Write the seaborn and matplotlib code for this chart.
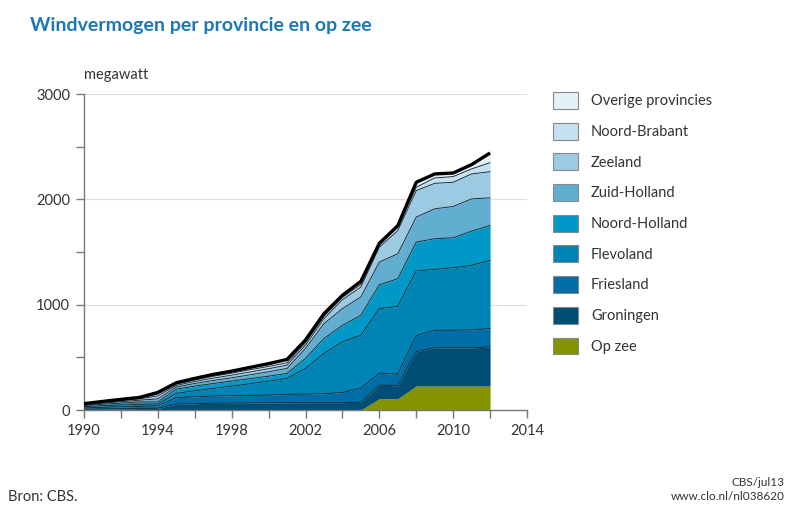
import numpy as np
import matplotlib
matplotlib.use("Agg")
import matplotlib.pyplot as plt
from matplotlib.patches import Patch
import seaborn as sns

# DATA (megawatt)
years = list(range(1990, 2013))
op_zee =        [0, 0, 0, 0, 0, 0, 0, 0, 0, 0, 0, 0, 0, 0, 0, 0, 108, 108, 228, 228, 228, 228, 228]
groningen =     [8, 10, 12, 14, 16, 55, 60, 64, 66, 67, 68, 69, 70, 70, 70, 73, 129, 122, 326, 362, 362, 362, 372]
friesland =     [12, 15, 18, 20, 22, 62, 65, 68, 70, 71, 73, 80, 80, 85, 95, 132, 113, 110, 151, 167, 167, 170, 173]
flevoland =     [12, 15, 18, 20, 18, 41, 58, 73, 91, 112, 133, 151, 244, 381, 482, 505, 612, 644, 615, 578, 594, 613, 647]
noord_holland = [10, 14, 18, 22, 20, 40, 44, 46, 48, 48, 47, 47, 95, 142, 157, 189, 227, 262, 274, 291, 284, 325, 332]
zuid_holland =  [6, 10, 13, 17, 30, 20, 25, 29, 31, 36, 42, 48, 95, 142, 158, 174, 215, 237, 237, 284, 297, 306, 262]
zeeland =       [5, 8, 11, 13, 28, 16, 19, 22, 25, 27, 29, 31, 31, 48, 85, 94, 142, 220, 252, 242, 230, 237, 249]
noord_brabant = [3, 4, 5, 6, 18, 12, 14, 18, 19, 21, 22, 22, 22, 22, 22, 25, 20, 32, 32, 51, 54, 48, 85]
overige =       [4, 5, 6, 7, 15, 13, 15, 18, 19, 23, 26, 32, 28, 25, 20, 30, 17, 15, 47, 38, 34, 41, 92]

labels = ["Op zee", "Groningen", "Friesland", "Flevoland", "Noord-Holland",
          "Zuid-Holland", "Zeeland", "Noord-Brabant", "Overige provincies"]
colors = ["#859300", "#004e74", "#006ea6", "#0083b5", "#0098c6",
          "#62aed0", "#9dcae3", "#c6e1ef", "#e4f1f8"]

sns.set_theme(style="white")
plt.rcParams['font.family'] = ['Lato', 'DejaVu Sans']

fig = plt.figure(figsize=(7.95, 5.08), dpi=100)
ax = fig.add_axes([84/795, 1-410/508, (527-84)/795, (410-94)/508])

layers = [op_zee, groningen, friesland, flevoland, noord_holland,
          zuid_holland, zeeland, noord_brabant, overige]
ax.stackplot(years, *layers, colors=colors, linewidth=0, zorder=2)

# boundary lines between the layers, thick line on the total
cum = np.cumsum(np.array(layers), axis=0)
for i in range(1, len(layers) - 1):
    ax.plot(years, cum[i], color="#1c2f3a", lw=0.7, zorder=3)
ax.plot(years, cum[-1], color="black", lw=2.4, zorder=4, solid_capstyle="butt")

ax.set_xlim(1990, 2014)
ax.set_ylim(0, 3000)
ax.set_xticks(range(1990, 2015, 2))
ax.set_xticklabels([str(y) if y % 4 == 2 else "" for y in range(1990, 2015, 2)])
ax.set_yticks(range(0, 3001, 500))
ax.set_yticklabels([str(v) if v % 1000 == 0 else "" for v in range(0, 3001, 500)])
for v in [1000, 2000, 3000]:
    ax.axhline(v, color="#dddddd", lw=0.8, zorder=1)

for s in ["top", "right"]:
    ax.spines[s].set_visible(False)
for s in ["left", "bottom"]:
    ax.spines[s].set_color("#777777")
    ax.spines[s].set_linewidth(1)
ax.tick_params(axis="both", which="both", direction="out", length=6, width=1,
               color="#777777", labelsize=10.5, labelcolor="#333333",
               bottom=True, left=True, pad=4)

fig.text(84/795, 1-75/508, "megawatt", fontsize=10.5, color="#333333", va="center")
fig.text(30/795, 1-25/508, "Windvermogen per provincie en op zee", fontsize=14,
         fontweight="bold", color="#1b78b3", va="center")
fig.text(8/795, 1-497/508, "Bron: CBS.", fontsize=10.5, color="#333333", va="center")
fig.text(785/795, 1-482/508, "CBS/jul13", fontsize=8.5, color="#333333",
         ha="right", va="center")
fig.text(785/795, 1-497/508, "www.clo.nl/nl038620", fontsize=8.5, color="#333333",
         ha="right", va="center")

handles = [Patch(facecolor=c, edgecolor="#888888", linewidth=0.8, label=l)
           for c, l in zip(colors[::-1], labels[::-1])]
fig.legend(handles=handles, loc="upper left", bbox_to_anchor=(553/795, 1-92/508),
           frameon=False, fontsize=10.5, handlelength=1.7, handleheight=1.4,
           labelspacing=0.95, handletextpad=0.9, borderaxespad=0, borderpad=0,
           labelcolor="#333333")

fig.savefig("out.png", dpi=100)
